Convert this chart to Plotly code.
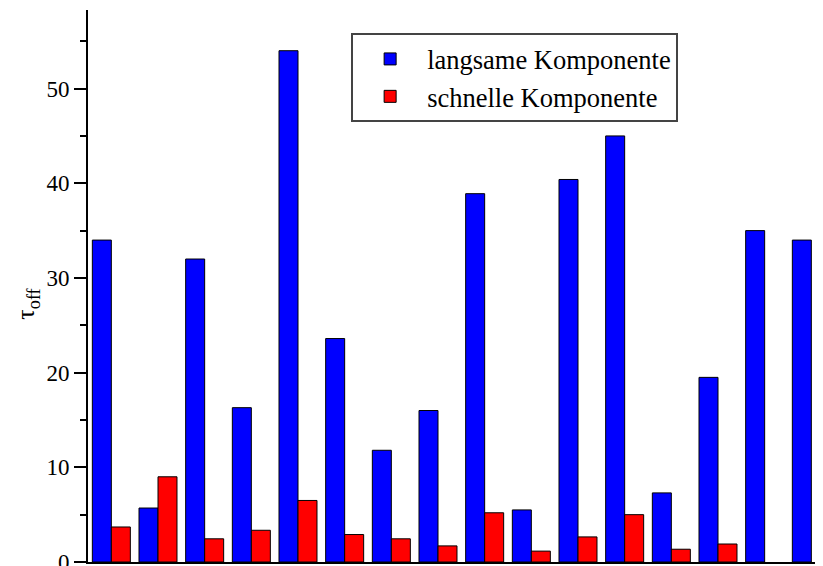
import plotly.graph_objects as go

categories = [str(i) for i in range(1, 17)]
langsame = [34.0, 5.7, 32.0, 16.3, 54.0, 23.6, 11.8, 16.0, 38.9, 5.5, 40.4, 45.0, 7.3, 19.5, 35.0, 34.0]
schnelle = [3.7, 9.0, 2.45, 3.35, 6.5, 2.9, 2.45, 1.7, 5.2, 1.15, 2.65, 5.0, 1.35, 1.9, None, None]
y_ticks = [0, 10, 20, 30, 40, 50]
y_title = "τ<sub>off</sub>"

fig = go.Figure()
fig.add_trace(go.Bar(x=categories, y=langsame, name="langsame Komponente",
                     marker=dict(color="#0000ff", line=dict(color="black", width=1))))
fig.add_trace(go.Bar(x=categories, y=schnelle, name="schnelle Komponente",
                     marker=dict(color="#ff0000", line=dict(color="black", width=1))))

# page body has an 8px margin, so the figure is sized to fill the rest of the window
fig.update_layout(
    width=815, height=558,
    margin=dict(l=80, r=0, t=2, b=4, autoexpand=False),
    paper_bgcolor="white", plot_bgcolor="white",
    barmode="group", bargap=0.186, bargroupgap=0,
    font=dict(family="Liberation Serif", color="black", size=23),
    showlegend=True,
    legend=dict(x=0.358, y=0.958, xanchor="left", yanchor="top",
                bordercolor="#444444", borderwidth=2, bgcolor="white",
                font=dict(size=26.5, family="Liberation Serif"),
                itemwidth=64, tracegroupgap=0),
    annotations=[dict(text=y_title, textangle=-90, xref="paper", yref="paper",
                      x=-0.083, y=0.468, xanchor="center", yanchor="middle",
                      showarrow=False, borderpad=0,
                      font=dict(size=26, family="Liberation Serif"))],
)
fig.update_xaxes(range=[-0.5, 15.25], showticklabels=False, ticks="",
                 showline=True, linecolor="black", linewidth=2, showgrid=False,
                 zeroline=False, automargin=False)
fig.update_yaxes(range=[0, 58.3], tickvals=y_ticks, ticks="outside", ticklen=12,
                 tickwidth=2, tickcolor="black", showline=True, linecolor="black",
                 linewidth=2, showgrid=False, zeroline=False, automargin=False,
                 ticklabeloverflow="allow",
                 tickfont=dict(size=23, family="Liberation Serif"),
                 minor=dict(dtick=5, ticks="outside", ticklen=6, tickwidth=2,
                            tickcolor="black", showgrid=False))

fig.write_html("out.html")
